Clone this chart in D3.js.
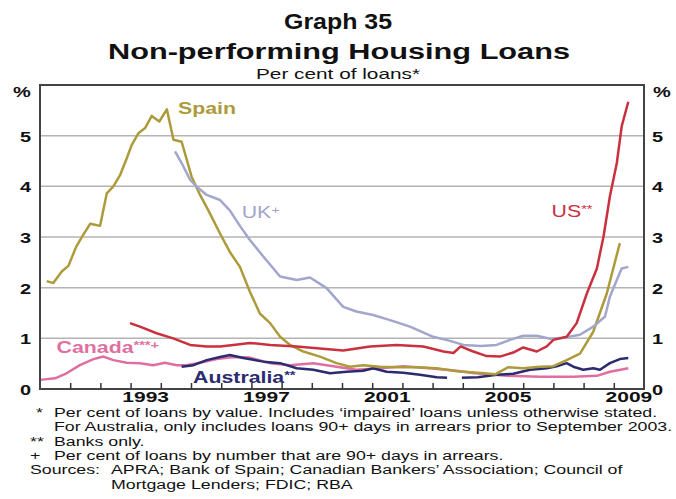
<!DOCTYPE html>
<html>
<head>
  <meta charset="utf-8" />
  <script src="https://cdnjs.cloudflare.com/ajax/libs/d3/7.8.5/d3.min.js"></script>
  <style>
    body { margin: 0; background: #fff; }
    text { font-family: "Liberation Sans", Arial, sans-serif; fill: #111; }
  </style>
</head>
<body>
  <svg id="chart" width="676" height="499"></svg>
  <script>
    // [decimal year, per cent]
    var spain = [[1990.22,2.13],[1990.44,2.09],[1990.72,2.32],[1990.94,2.43],[1991.2,2.81],[1991.43,3.04],[1991.66,3.26],[1991.82,3.24],[1991.99,3.22],[1992.21,3.86],[1992.43,4.0],[1992.65,4.22],[1992.87,4.55],[1993.04,4.82],[1993.26,5.05],[1993.48,5.15],[1993.7,5.39],[1993.95,5.28],[1994.2,5.52],[1994.42,4.92],[1994.69,4.88],[1995.02,4.19],[1995.3,3.83],[1995.57,3.53],[1995.96,3.07],[1996.29,2.7],[1996.62,2.41],[1996.95,1.92],[1997.28,1.49],[1997.62,1.30],[1997.95,1.03],[1998.28,0.87],[1998.72,0.74],[1999.27,0.64],[1999.82,0.51],[2000.26,0.44],[2000.7,0.47],[2001.26,0.44],[2001.81,0.43],[2002.47,0.43],[2003.14,0.41],[2003.8,0.35],[2004.5,0.32],[2005.07,0.29],[2005.51,0.43],[2006.0,0.41],[2006.56,0.44],[2007.0,0.45],[2007.44,0.57],[2007.88,0.70],[2008.32,1.13],[2008.77,1.89],[2009.2,2.88]]
    var uk = [[1994.47,4.69],[1994.69,4.46],[1994.97,4.13],[1995.19,3.99],[1995.52,3.83],[1995.96,3.73],[1996.29,3.52],[1996.62,3.22],[1996.95,2.94],[1997.4,2.61],[1997.95,2.22],[1998.5,2.15],[1998.94,2.20],[1999.49,1.99],[2000.04,1.62],[2000.48,1.53],[2001.03,1.46],[2001.59,1.36],[2002.25,1.23],[2003.02,1.03],[2003.58,0.95],[2004.02,0.87],[2004.6,0.85],[2005.12,0.87],[2005.56,0.97],[2006.0,1.05],[2006.45,1.05],[2006.89,0.99],[2007.33,1.01],[2007.88,1.07],[2008.32,1.23],[2008.71,1.43],[2008.87,1.82],[2009.1,2.15],[2009.26,2.38],[2009.48,2.41]]
    var us = [[1992.98,1.30],[1993.31,1.23],[1993.86,1.10],[1994.41,1.00],[1994.97,0.87],[1995.52,0.84],[1995.96,0.84],[1996.4,0.87],[1996.95,0.91],[1997.62,0.87],[1998.5,0.84],[1999.27,0.80],[2000.04,0.76],[2000.93,0.84],[2001.81,0.87],[2002.69,0.84],[2003.36,0.74],[2003.69,0.71],[2003.93,0.84],[2004.3,0.75],[2004.79,0.65],[2005.23,0.64],[2005.67,0.72],[2006.0,0.82],[2006.45,0.74],[2006.78,0.84],[2007.0,0.97],[2007.44,1.03],[2007.77,1.30],[2008.11,1.89],[2008.44,2.38],[2008.66,3.01],[2008.87,3.80],[2009.1,4.46],[2009.26,5.18],[2009.48,5.67]]
    var canada = [[1990.0,0.18],[1990.5,0.21],[1990.88,0.31],[1991.32,0.47],[1991.77,0.59],[1992.1,0.64],[1992.43,0.57],[1992.87,0.52],[1993.31,0.51],[1993.75,0.47],[1994.14,0.52],[1994.53,0.47],[1994.86,0.47],[1995.3,0.52],[1995.85,0.59],[1996.4,0.63],[1996.95,0.62],[1997.62,0.51],[1998.28,0.47],[1999.05,0.51],[1999.82,0.44],[2000.48,0.38],[2001.26,0.41],[2002.03,0.45],[2002.91,0.41],[2003.8,0.36],[2004.4,0.31],[2005.46,0.26],[2006.56,0.24],[2007.66,0.24],[2008.44,0.26],[2008.87,0.34],[2009.48,0.41]]
    // null = break in the series (definition change in 2003)
    var australia = [[1994.69,0.44],[1995.08,0.47],[1995.52,0.57],[1995.96,0.63],[1996.29,0.67],[1996.73,0.61],[1997.4,0.54],[1997.95,0.51],[1998.5,0.41],[1999.05,0.38],[1999.6,0.31],[2000.15,0.34],[2000.7,0.36],[2001.03,0.41],[2001.48,0.34],[2002.03,0.32],[2002.58,0.28],[2003.14,0.23],[2003.48,0.22],[2003.49,null],[2003.96,null],[2003.97,0.22],[2004.5,0.23],[2005.12,0.28],[2005.67,0.30],[2006.23,0.38],[2006.78,0.41],[2007.11,0.45],[2007.44,0.51],[2007.66,0.44],[2007.99,0.38],[2008.32,0.41],[2008.54,0.38],[2008.87,0.51],[2009.2,0.59],[2009.48,0.61]]

    var yTicks = [0, 1, 2, 3, 4, 5]
    var yearLabels = [1993, 1997, 2001, 2005, 2009]

    var footnotes = [
      ["*", "Per cent of loans by value. Includes \u2018impaired\u2019 loans unless otherwise stated."],
      ["", "For Australia, only includes loans 90+ days in arrears prior to September 2003."],
      ["**", "Banks only."],
      ["+", "Per cent of loans by number that are 90+ days in arrears."],
      ["Sources:", "APRA; Bank of Spain; Canadian Bankers\u2019 Association; Council of"],
      ["", "Mortgage Lenders; FDIC; RBA"]
    ]

    var K = 1.33   // the original is stretched sideways

    function stretch(sel, k) {
      sel.each(function() {
        var n = this.getComputedTextLength()
        d3.select(this).attr("textLength", n * (k || K)).attr("lengthAdjust", "spacingAndGlyphs")
      })
    }

    var svg = d3.select("#chart")
    var plotL = 40, plotR = 644, plotT = 85, plotB = 389

    var x = d3.scaleLinear().domain([1990, 2010]).range([plotL, plotR])
    var y = d3.scaleLinear().domain([0, 6]).range([plotB, plotT])

    // titles
    svg.append("text").attr("x", 338).attr("y", 29).attr("text-anchor", "middle")
      .style("font-size", "22px").style("font-weight", "bold").text("Graph 35")
      .attr("textLength", 108).attr("lengthAdjust", "spacingAndGlyphs")
    svg.append("text").attr("x", 339).attr("y", 59).attr("text-anchor", "middle")
      .style("font-size", "22px").style("font-weight", "bold").text("Non-performing Housing Loans")
      .attr("textLength", 462).attr("lengthAdjust", "spacingAndGlyphs")
    svg.append("text").attr("x", 338).attr("y", 79).attr("text-anchor", "middle")
      .style("font-size", "15px").text("Per cent of loans*")
      .attr("textLength", 164).attr("lengthAdjust", "spacingAndGlyphs")

    // gridlines
    svg.append("g").selectAll("line")
      .data(yTicks.filter(d => d > 0))
      .enter().append("line")
        .attr("x1", plotL).attr("x2", plotR)
        .attr("y1", d => y(d)).attr("y2", d => y(d))
        .style("stroke", "#b4b4b4").style("stroke-width", 1.5)

    // series
    var line = d3.line()
      .defined(d => d[1] != null)
      .x(d => x(d[0]))
      .y(d => y(d[1]))

    var series = [
      { data: canada, color: "#df6fa0" },
      { data: australia, color: "#2b2b70" },
      { data: spain, color: "#ad9b3b" },
      { data: uk, color: "#a2a6cc" },
      { data: us, color: "#c9313f" }
    ]

    svg.append("g").selectAll("path")
      .data(series)
      .enter().append("path")
        .attr("d", d => line(d.data))
        .style("fill", "none")
        .style("stroke", d => d.color)
        .style("stroke-width", 2.5)
        .style("stroke-linejoin", "round")

    // frame
    svg.append("rect")
      .attr("x", plotL).attr("y", plotT)
      .attr("width", plotR - plotL).attr("height", plotB - plotT)
      .style("fill", "none").style("stroke", "#444").style("stroke-width", 2)

    // x axis: ticks at year boundaries, labels mid-year
    var xAxis = d3.axisBottom(x)
      .tickValues(d3.range(1991, 2010))
      .tickSizeInner(-6).tickSizeOuter(0)
      .tickFormat("")
    var xg = svg.append("g").attr("transform", "translate(0," + plotB + ")").call(xAxis)
    xg.select(".domain").remove()
    xg.selectAll(".tick line").style("stroke", "#333").style("stroke-width", 1.5)

    svg.append("g").selectAll("text")
      .data(yearLabels)
      .enter().append("text")
        .attr("x", d => x(d + 0.5)).attr("y", 402)
        .attr("text-anchor", "middle")
        .style("font-size", "15px").style("font-weight", "bold")
        .text(d => d)
        .call(stretch, 1.4)

    // y axes, both sides
    var yl = svg.append("g").attr("transform", "translate(" + (plotL - 9) + ",0)")
      .call(d3.axisLeft(y).tickValues(yTicks).tickSize(0).tickFormat(d3.format("d")))
    var yr = svg.append("g").attr("transform", "translate(" + (plotR + 8) + ",0)")
      .call(d3.axisRight(y).tickValues(yTicks).tickSize(0).tickFormat(d3.format("d")))
    ;[yl, yr].forEach(g => {
      g.select(".domain").remove()
      g.selectAll("text").attr("x", 0).attr("dy", "0.36em")
        .style("font-size", "15px").style("font-weight", "bold")
        .style("font-family", "Liberation Sans, Arial, sans-serif").style("fill", "#111")
        .call(stretch)
    })
    svg.append("text").attr("x", 13).attr("y", 97).style("font-size", "15px").style("font-weight", "bold")
      .text("%").call(stretch)
    svg.append("text").attr("x", 653).attr("y", 97).style("font-size", "15px").style("font-weight", "bold")
      .text("%").call(stretch)

    // series labels
    var labels = [
      { name: "Spain", sup: "", at: [1994.57, 5.43], color: "#ad9b3b", bold: true },
      { name: "UK", sup: "+", at: [1996.68, 3.38], color: "#a2a6cc", bold: false },
      { name: "US", sup: "**", at: [2006.94, 3.40], color: "#c9313f", bold: false },
      { name: "Canada", sup: "***+", at: [1990.55, 0.71], color: "#df6fa0", bold: true },
      { name: "Australia", sup: "**", at: [1995.07, 0.12], color: "#2b2b70", bold: true }
    ]
    var lab = svg.append("g").selectAll("text")
      .data(labels)
      .enter().append("text")
        .attr("x", d => x(d.at[0])).attr("y", d => y(d.at[1]))
        .style("font-size", "16px")
        .style("font-weight", d => d.bold ? "bold" : "normal")
        .style("fill", d => d.color)
    lab.append("tspan").text(d => d.name)
    lab.append("tspan").attr("dy", -4).style("font-size", "11px").text(d => d.sup)
    lab.call(stretch)

    // footnotes
    var fy = 417
    footnotes.forEach(function(f, i) {
      var yy = fy + i * 14.3
      if (f[0]) {
        svg.append("text").attr("x", f[0] == "*" ? 36 : 30).attr("y", yy)
          .style("font-size", "12.5px").text(f[0]).call(stretch, 1.42)
      }
      var tx = f[0] == "Sources:" || (i == 5) ? 111 : 54
      svg.append("text").attr("x", tx).attr("y", yy)
        .style("font-size", "12.5px").text(f[1]).call(stretch, 1.42)
    })
  </script>
</body>
</html>
